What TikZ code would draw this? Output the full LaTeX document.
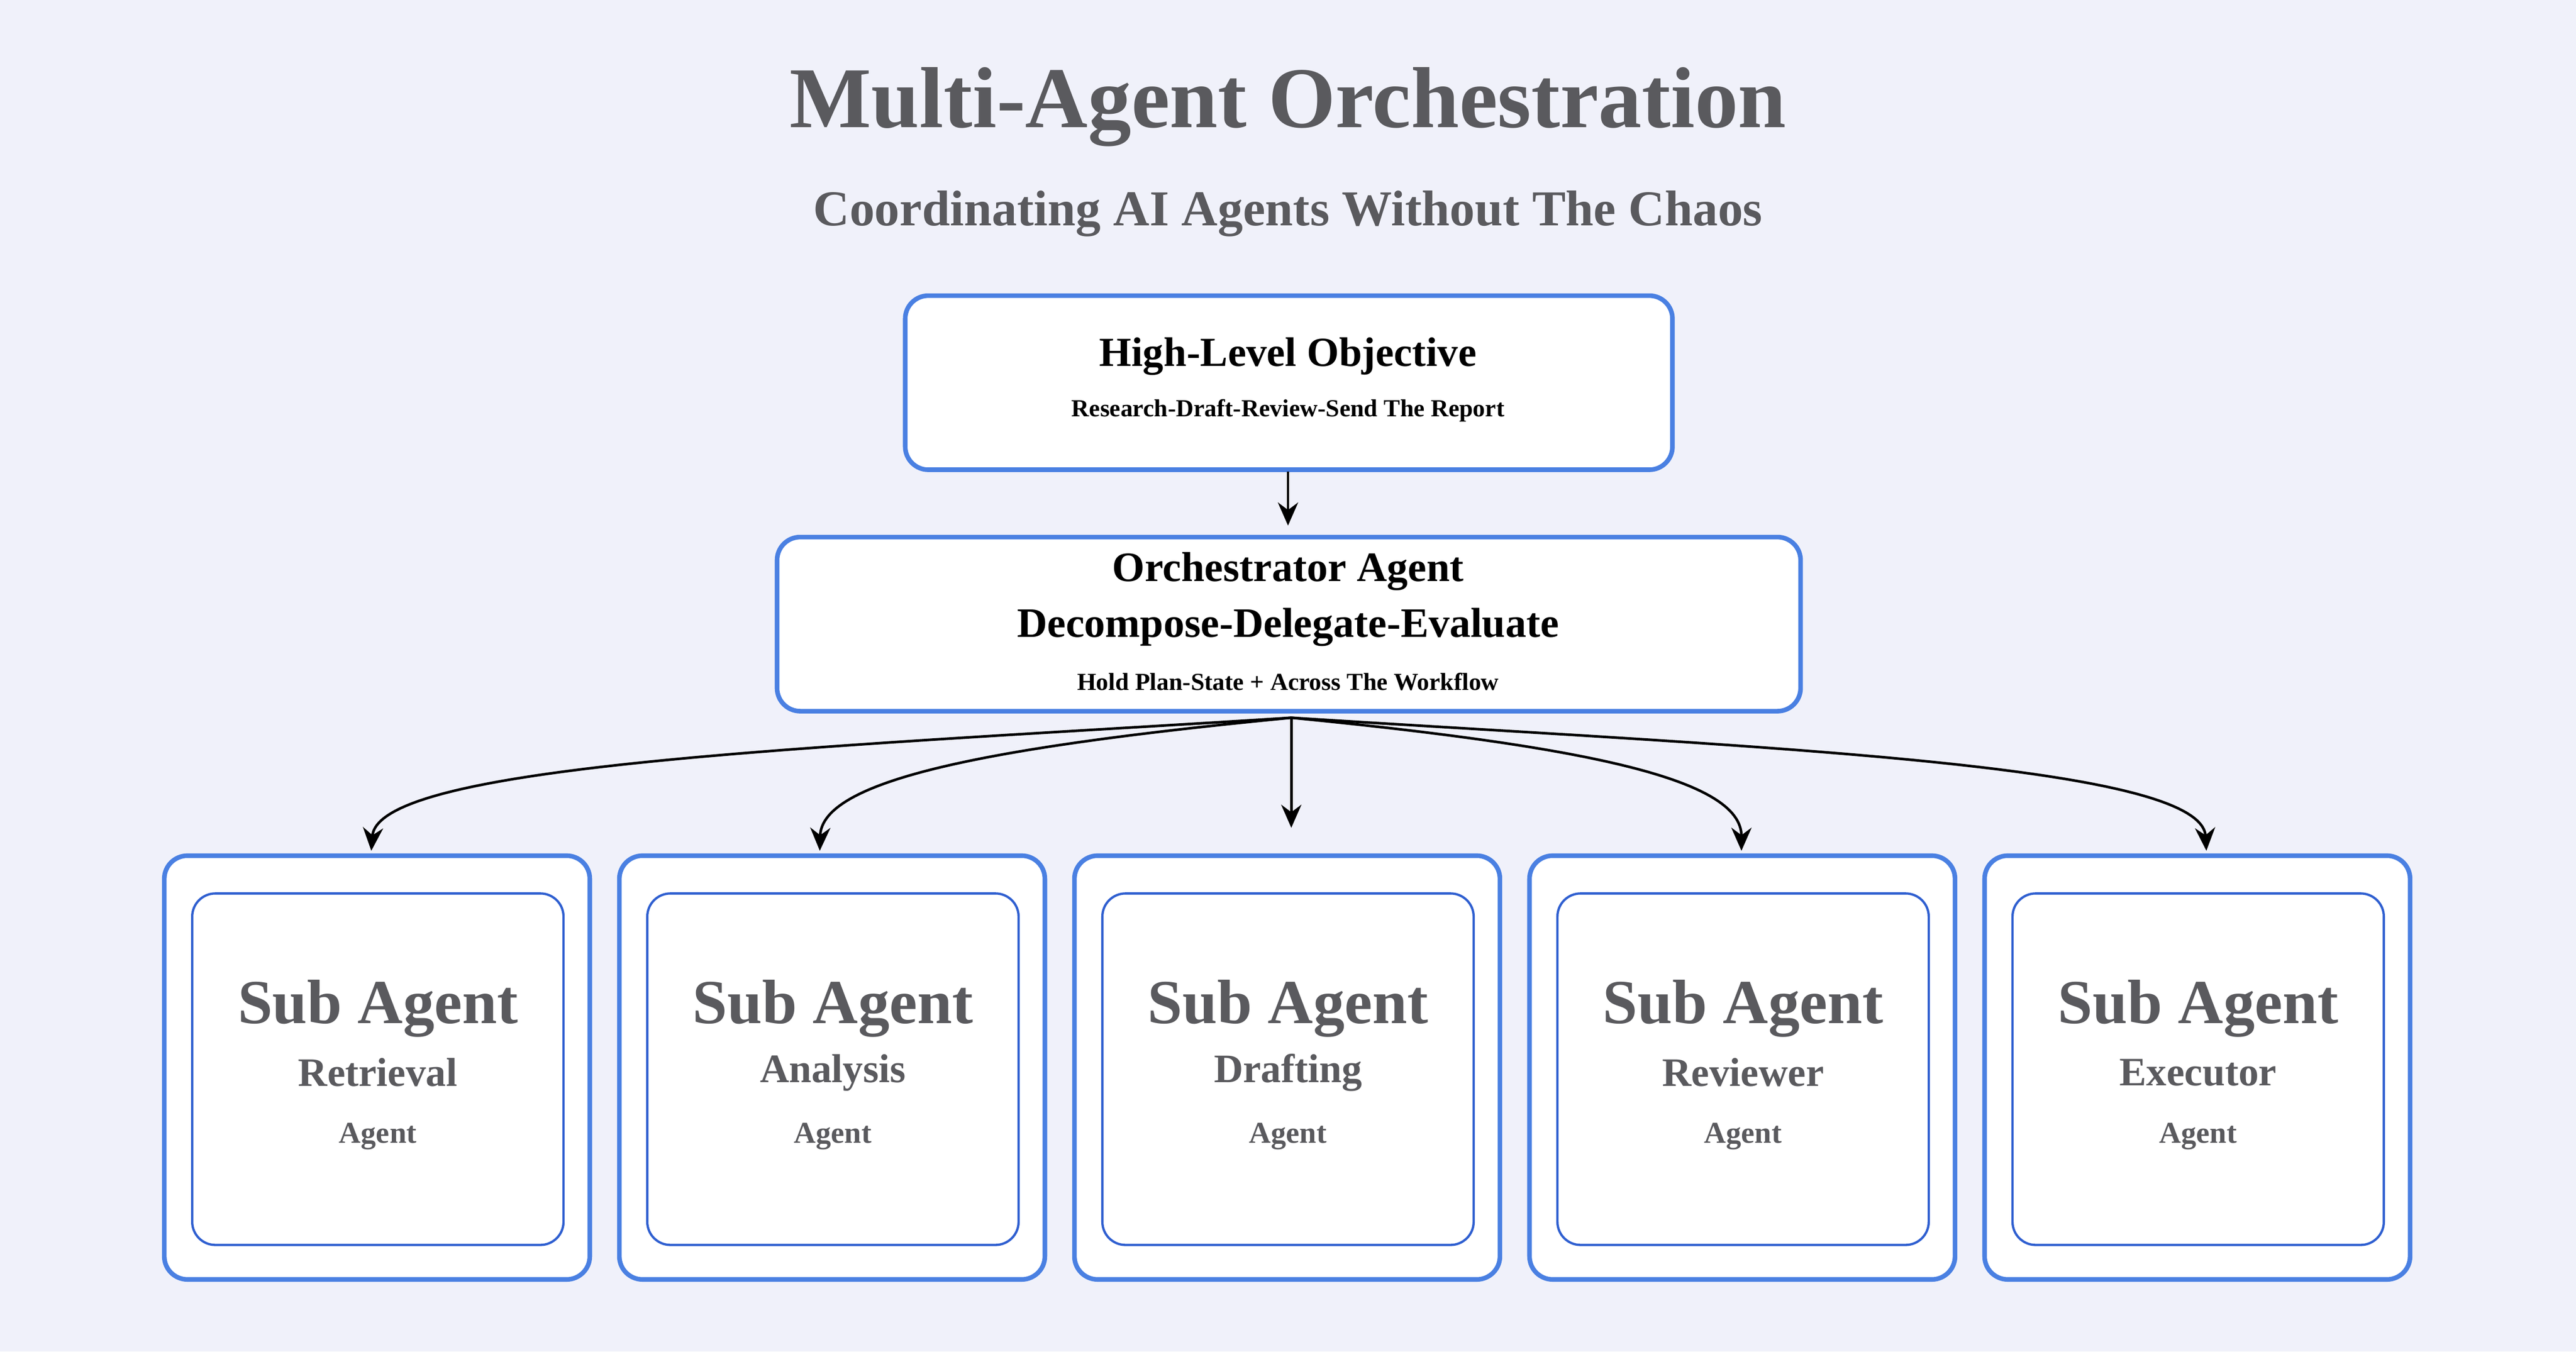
\documentclass[tikz,border=0pt]{standalone}
\usepackage{fontspec}
\setmainfont{Liberation Serif}
\usetikzlibrary{arrows.meta}
\definecolor{bgcol}{HTML}{F0F1FA}
\definecolor{edgeblue}{HTML}{4A80E2}
\definecolor{innerblue}{HTML}{2F5FD0}
\definecolor{greytext}{HTML}{5A5A5E}
\begin{document}
\begin{tikzpicture}[x=0.02cm,y=-0.02cm,>={Stealth[length=8pt,width=7pt]},
  topbox/.style={draw=edgeblue,line width=1.6pt,fill=white,rounded corners=8pt},
  outerbox/.style={draw=edgeblue,line width=1.6pt,fill=white,rounded corners=8pt},
  innerbox/.style={draw=innerblue,line width=0.8pt,fill=white,rounded corners=8pt},
  flow/.style={->,line width=0.9pt,black}]
  \fill[bgcol] (0,0) rectangle (1568,823);
  \useasboundingbox (0,0) rectangle (1568,823);

  % title
  \node[text=greytext,font=\bfseries\fontsize{30}{33}\selectfont] (title) at (784,65) {Multi-Agent Orchestration};
  \node[text=greytext,font=\bfseries\fontsize{17.4}{20}\selectfont] (subtitle) at (784,130) {Coordinating AI Agents Without The Chaos};

  % objective
  \draw[topbox] (551,180) rectangle (1018,286);
  \node[font=\bfseries\fontsize{14.3}{17}\selectfont] (objective) at (784,217) {High-Level Objective};
  \node[font=\bfseries\fontsize{8.5}{10}\selectfont] (objsub) at (784,250) {Research-Draft-Review-Send The Report};
  \coordinate (objbot) at (784,287);

  % orchestrator
  \draw[topbox] (473,327) rectangle (1096,433);
  \coordinate (orctop) at (784,320);
  \coordinate (orcbot) at (786,437);
  \node[font=\bfseries\fontsize{14.5}{17}\selectfont] (orc1) at (784,348) {Orchestrator Agent};
  \node[font=\bfseries\fontsize{14.5}{17}\selectfont] (orc2) at (784,382) {Decompose-Delegate-Evaluate};
  \node[font=\bfseries\fontsize{8.5}{10}\selectfont] (orc3) at (784,415) {Hold Plan-State + Across The Workflow};
  \draw[flow] (objbot) -- (orctop);

  % sub agents
  \foreach \x/\name/\tip in {100/Retrieval/226,377/Analysis/499,654/Drafting/786,931/Reviewer/1060,1208/Executor/1343}{
    \draw[outerbox] (\x,521) rectangle ++(259,258);
    \draw[innerbox] (\x+17,544) rectangle ++(226,214);
    \node[text=greytext,font=\bfseries\fontsize{21.7}{24}\selectfont] at (\x+130,614) {Sub Agent};
    \node[text=greytext,font=\bfseries\fontsize{14}{16}\selectfont] at (\x+130,653) {\name};
    \node[text=greytext,font=\bfseries\fontsize{10.5}{12}\selectfont] at (\x+130,692) {Agent};
  }
  \coordinate (tipA) at (226,518);
  \coordinate (tipB) at (499,518);
  \coordinate (tipC) at (786,504);
  \coordinate (tipD) at (1060,518);
  \coordinate (tipE) at (1343,518);
  \draw[flow] (orcbot) .. controls (500,455) and (230,465) .. (tipA);
  \draw[flow] (orcbot) .. controls (600,455) and (500,475) .. (tipB);
  \draw[flow] (orcbot) -- (tipC);
  \draw[flow] (orcbot) .. controls (970,455) and (1060,475) .. (tipD);
  \draw[flow] (orcbot) .. controls (1070,455) and (1340,465) .. (tipE);
\end{tikzpicture}
\end{document}
